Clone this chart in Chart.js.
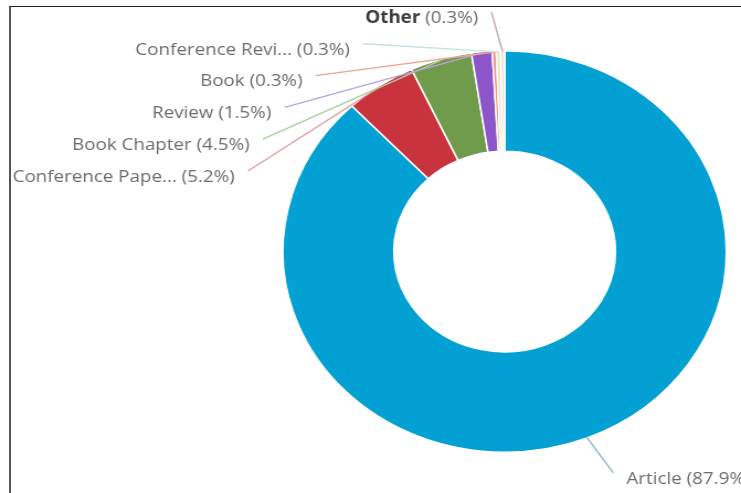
<!DOCTYPE html>
<html>
<head>
<meta charset="utf-8">
<script src="https://cdn.jsdelivr.net/npm/chart.js@4.4.1/dist/chart.umd.min.js"></script>
<style>
  html, body { margin: 0; padding: 0; background: #ffffff; width: 741px; height: 493px; overflow: hidden; }
  #frame { position: absolute; left: 9px; top: 6px; right: 0; bottom: 0;
           border-top: 1px solid #222222; border-left: 2px solid #555555; }
  #chart { position: absolute; left: 0; top: 0; }
</style>
</head>
<body>
<div id="frame"></div>
<!-- drawn at 671 wide and shown at 741: the doughnut appears slightly wider than tall -->
<canvas id="chart" width="671" height="493" style="width:741px;height:493px"></canvas>
<script>
// Document types and their share of all documents (%)
const docTypes = ['Article', 'Conference Paper', 'Book Chapter', 'Review', 'Book', 'Conference Review', 'Other'];
const sharePercent = [87.9, 5.2, 4.5, 1.5, 0.3, 0.3, 0.3];

// Styling
const sliceColors = ['#03a0d3', '#c9333d', '#6f9b4b', '#8c55c8', '#ef9484', '#f1e0b2', '#ece4e4'];
const connectorColors = ['#93b9cf', '#e39a9c', '#a9cf9f', '#b9a3e2', '#efa593', '#bfe5e5', '#c9aaaa'];
const boldNames = ['Other'];

const FONT = '"Open Sans", "DejaVu Sans", sans-serif';
const FONT_SIZE = 17;

function shortName(name) {
  return name.length > 15 ? name.slice(0, 15) + '...' : name;
}

// Outside labels with connector lines, stacked on the left like a pie label distributor
const leaderLabels = {
  id: 'leaderLabels',
  afterDatasetsDraw(chart) {
    const ctx = chart.ctx;
    const meta = chart.getDatasetMeta(0);
    const items = meta.data.map((arc, i) => {
      const p = arc.getProps(['x', 'y', 'startAngle', 'endAngle', 'outerRadius'], true);
      const a = (p.startAngle + p.endAngle) / 2;
      const R = p.outerRadius;
      return {
        i, a, cx: p.x, cy: p.y, R,
        left: Math.cos(a) < 0,
        natY: p.y + (R + 44) * Math.sin(a)
      };
    });

    const topLimit = 18;
    const bottomLimit = chart.height - 12;
    const spacing = 31.8;

    const leftItems = items.filter(d => d.left).sort((p, q) => p.natY - q.natY);
    const rightItems = items.filter(d => !d.left).sort((p, q) => p.natY - q.natY);

    let prev = -Infinity;
    leftItems.forEach(d => {
      d.y = Math.max(d.natY, topLimit, prev + spacing);
      prev = d.y;
    });
    prev = -Infinity;
    rightItems.forEach(d => {
      d.y = Math.min(Math.max(d.natY, topLimit, prev + spacing), bottomLimit);
      prev = d.y;
    });

    items.forEach(d => {
      const rx = d.R + 32;
      let dx;
      if (Math.abs(d.y - d.natY) > 0.5) {
        const dy = d.y - d.cy;
        dx = Math.sqrt(Math.max(rx * rx - dy * dy, 0));
      } else {
        dx = rx * Math.abs(Math.cos(d.a));
      }
      const dir = d.left ? -1 : 1;
      const textX = d.cx + dir * (dx + 24);

      // connector
      const sx = d.cx + (d.R - 1) * Math.cos(d.a);
      const sy = d.cy + (d.R - 1) * Math.sin(d.a);
      const ex = textX - dir * 12;
      const ey = d.y - 6;
      ctx.save();
      ctx.strokeStyle = connectorColors[d.i];
      ctx.lineWidth = 1.4;
      ctx.beginPath();
      ctx.moveTo(sx, sy);
      ctx.lineTo(ex, ey);
      ctx.stroke();

      // text: name then (value%)
      const name = shortName(docTypes[d.i]);
      const pct = ' (' + sharePercent[d.i].toFixed(1) + '%)';
      const bold = boldNames.includes(docTypes[d.i]);
      const nameFont = (bold ? 'bold ' : '') + FONT_SIZE + 'px ' + FONT;
      const pctFont = FONT_SIZE + 'px ' + FONT;
      ctx.font = nameFont;
      const nameW = ctx.measureText(name).width;
      ctx.font = pctFont;
      const pctW = ctx.measureText(pct).width;
      const startX = d.left ? textX - nameW - pctW : textX;
      ctx.textBaseline = 'middle';
      ctx.textAlign = 'left';
      ctx.font = nameFont;
      ctx.fillStyle = bold ? '#3c3c3c' : '#6b6b6b';
      ctx.fillText(name, startX, d.y);
      ctx.font = pctFont;
      ctx.fillStyle = '#6b6b6b';
      ctx.fillText(pct, startX + nameW, d.y);
      ctx.restore();
    });
  }
};

new Chart(document.getElementById('chart'), {
  type: 'doughnut',
  data: {
    labels: docTypes,
    datasets: [{
      data: sharePercent,
      backgroundColor: sliceColors,
      borderColor: '#ffffff',
      borderWidth: 1.5,
      hoverOffset: 0
    }]
  },
  options: {
    responsive: false,
    animation: false,
    events: [],
    cutout: '50%',
    rotation: 0,
    layout: { padding: { top: 50, bottom: 40, left: 255, right: 12 } },
    plugins: {
      legend: { display: false },
      tooltip: { enabled: false }
    }
  },
  plugins: [leaderLabels]
});
</script>
</body>
</html>
